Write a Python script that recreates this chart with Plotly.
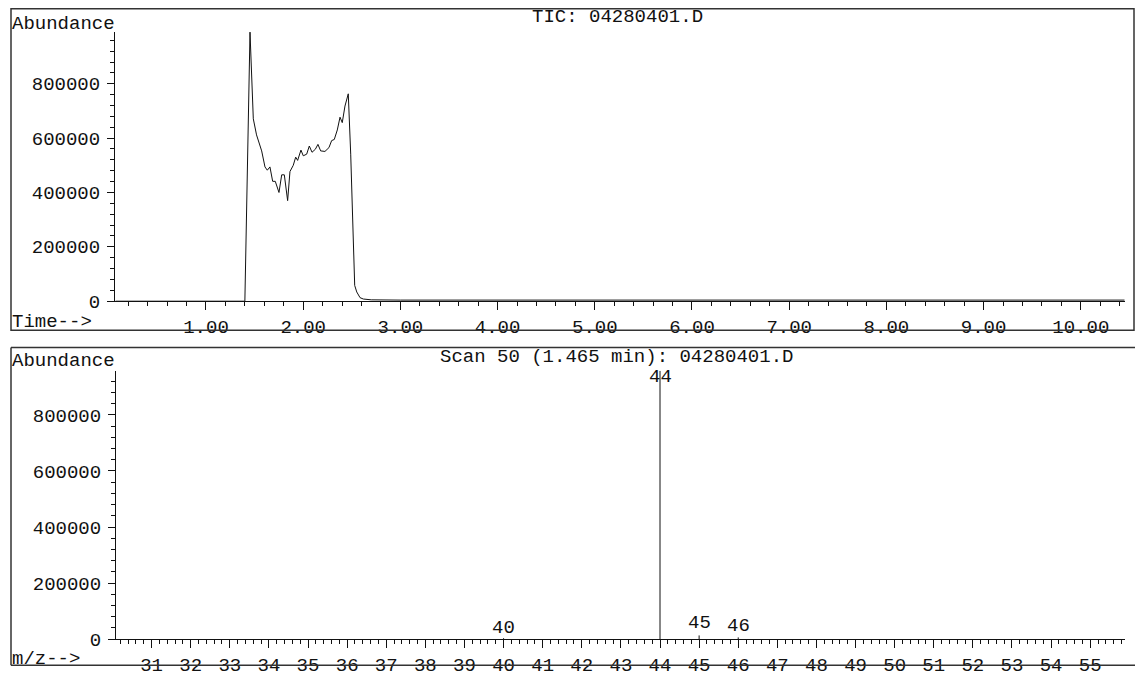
import plotly.graph_objects as go

W, H = 1135, 693

# ---- Data: TIC chromatogram (time in min, abundance) ----
tic_time = [0.07, 1.40, 1.453, 1.487, 1.52, 1.573, 1.607, 1.631, 1.658, 1.686, 1.713,
            1.751, 1.779, 1.806, 1.840, 1.864, 1.898, 1.923, 1.943, 1.977, 2.001,
            2.036, 2.063, 2.091, 2.125, 2.152, 2.180, 2.224, 2.265, 2.293, 2.320,
            2.351, 2.379, 2.402, 2.430, 2.464, 2.489, 2.510, 2.530, 2.551, 2.585,
            2.619, 2.70, 3.00, 10.45]
tic_abund = [0, 0, 990000, 671000, 612000, 553000, 494000, 482000, 494000, 441000, 441000,
             400000, 465000, 465000, 370000, 477000, 500000, 530000, 518000, 556000, 535000,
             541000, 571000, 548000, 559000, 577000, 553000, 551000, 565000, 591000, 595000,
             630000, 677000, 657000, 718000, 763000, 541000, 282000, 58000, 34000, 13000,
             8000, 5000, 4000, 4000]

# ---- Data: mass spectrum at scan 50 ----
ms_mz = [40, 44, 45, 46]
ms_abund = [3000, 958000, 13000, 6000]
ms_label_shift = [10, -6, 12, 11]

tic_title = "TIC: 04280401.D"
scan_title = "Scan 50 (1.465 min): 04280401.D"

FONT = "Liberation Mono, Courier New, monospace"
FS = 19
INK = "#111111"

def py(p):
    return 1 - p / H

fig = go.Figure()

fig.add_trace(go.Scatter(x=tic_time, y=tic_abund, mode="lines",
                         line=dict(color=INK, width=1), xaxis="x", yaxis="y",
                         hoverinfo="skip", showlegend=False))

stick_x, stick_y = [], []
for m, a in zip(ms_mz, ms_abund):
    stick_x += [m, m, None]
    stick_y += [0, a, None]
fig.add_trace(go.Scatter(x=stick_x, y=stick_y, mode="lines",
                         line=dict(color=INK, width=1), xaxis="x2", yaxis="y2",
                         hoverinfo="skip", showlegend=False))

# empty axis titles get a tiny font so their (invisible) text node stays inside the page
axis_common = dict(showline=True, linecolor=INK, linewidth=1, showgrid=False,
                   zeroline=False, ticks="outside", tickcolor=INK, tickwidth=1,
                   fixedrange=True,
                   title=dict(text="", font=dict(size=1)),
                   tickfont=dict(family=FONT, size=FS, color=INK))

fig.update_layout(
    width=W, height=H, autosize=False,
    margin=dict(l=0, r=0, t=0, b=0),
    paper_bgcolor="white", plot_bgcolor="white",
    showlegend=False,
    font=dict(family=FONT, size=FS, color=INK),
    xaxis=dict(domain=[115 / W, 1125 / W], range=[0.064, 10.455], anchor="y",
               tickmode="linear", tick0=0, dtick=1, tickformat=".2f", ticklen=8,
               minor=dict(ticks="outside", tick0=0, dtick=0.2, ticklen=4,
                          tickcolor=INK, showgrid=False),
               **axis_common),
    yaxis=dict(domain=[py(312), py(33)], range=[0, 991000], anchor="x",
               tickmode="linear", tick0=0, dtick=200000, tickformat="d", ticklen=7,
               ticklabelstandoff=3,
               minor=dict(ticks="outside", tick0=0, dtick=40000, ticklen=4,
                          tickcolor=INK, showgrid=False),
               **axis_common),
    xaxis2=dict(domain=[116 / W, 1125 / W], range=[30.09, 55.89], anchor="y2",
                tickmode="linear", tick0=0, dtick=1, ticklen=8,
                minor=dict(ticks="outside", tick0=0, dtick=0.2, ticklen=4,
                           tickcolor=INK, showgrid=False),
                **axis_common),
    yaxis2=dict(domain=[py(662), py(384)], range=[0, 958000], anchor="x2",
                tickmode="linear", tick0=0, dtick=200000, tickformat="d", ticklen=7,
                ticklabelstandoff=3,
                minor=dict(ticks="outside", tick0=0, dtick=40000, ticklen=4,
                           tickcolor=INK, showgrid=False),
                **axis_common),
)

annos = []
def txt(text, x, y, xanchor="left"):
    annos.append(dict(text=text, x=x / W, y=py(y), xref="paper", yref="paper",
                      xanchor=xanchor, yanchor="middle", showarrow=False,
                      font=dict(family=FONT, size=FS, color=INK)))

txt("Abundance", 10, 25)
txt("Time-->", 10, 334)
txt(tic_title, 617, 18, "center")
txt("Abundance", 10, 374)
txt("m/z-->", 10, 683)
txt(scan_title, 616, 370, "center")

for m, a, s in zip(ms_mz, ms_abund, ms_label_shift):
    annos.append(dict(text=str(m), x=m, y=a, xref="x2", yref="y2",
                      xanchor="center", yanchor="middle", yshift=s, showarrow=False,
                      font=dict(family=FONT, size=FS, color=INK)))

frame = dict(color="#333333", width=1.5)
shapes = [
    dict(type="rect", xref="paper", yref="paper", x0=11 / W, x1=1134 / W,
         y0=py(342), y1=py(9), line=frame),
    dict(type="line", xref="paper", yref="paper", x0=11 / W, x1=1, y0=py(360), y1=py(360), line=frame),
    dict(type="line", xref="paper", yref="paper", x0=11 / W, x1=11 / W, y0=py(360), y1=py(689), line=frame),
    dict(type="line", xref="paper", yref="paper", x0=11 / W, x1=1, y0=py(689), y1=py(689), line=frame),
]
fig.update_layout(shapes=shapes, annotations=annos)

fig.write_html("out.html", config={"displayModeBar": False})
